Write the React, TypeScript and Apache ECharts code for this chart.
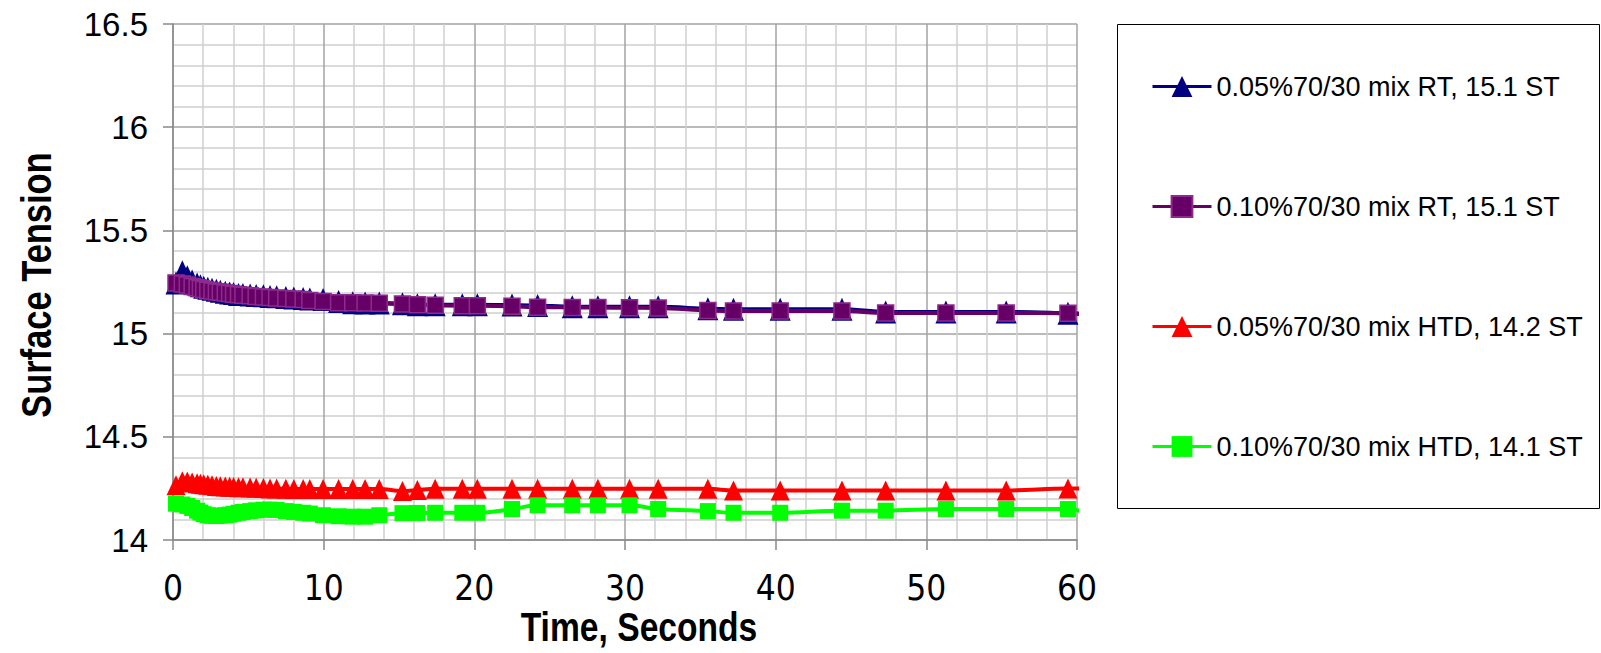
import React, { useEffect, useRef } from "react";
import * as echarts from "echarts";

// Time (s) of each measured bubble
const times = [
  0.2, 0.62, 0.95, 1.27, 1.6, 1.82, 2.04, 2.31, 2.59, 2.88, 3.14, 3.47, 3.76, 4.02, 4.35, 4.64,
  5.12, 5.52, 6.0, 6.44, 6.88, 7.49, 8.02, 8.64, 9.08, 9.96, 10.99, 11.93, 12.75, 13.69, 15.23,
  16.22, 17.4, 19.2, 20.2, 22.5, 24.2, 26.5, 28.2, 30.3, 32.2, 35.5, 37.2, 40.3, 44.4, 47.3, 51.3,
  55.3, 59.4,
];

const rt005 = [
  15.245, 15.3, 15.275, 15.255, 15.24, 15.232, 15.225, 15.22, 15.215, 15.21, 15.205, 15.2, 15.197,
  15.194, 15.19, 15.19, 15.187, 15.185, 15.183, 15.18, 15.178, 15.175, 15.172, 15.17, 15.168,
  15.165, 15.156, 15.15, 15.148, 15.148, 15.145, 15.14, 15.14, 15.14, 15.14, 15.138, 15.136, 15.13,
  15.13, 15.13, 15.13, 15.12, 15.118, 15.118, 15.118, 15.105, 15.105, 15.105, 15.098,
];

const rt010 = [
  15.245, 15.24, 15.235, 15.228, 15.222, 15.218, 15.214, 15.21, 15.206, 15.203, 15.2, 15.197,
  15.194, 15.191, 15.188, 15.186, 15.183, 15.18, 15.177, 15.175, 15.172, 15.17, 15.168, 15.165,
  15.16, 15.155, 15.15, 15.15, 15.148, 15.147, 15.143, 15.14, 15.137, 15.135, 15.135, 15.132,
  15.128, 15.127, 15.126, 15.125, 15.124, 15.112, 15.11, 15.11, 15.11, 15.1, 15.1, 15.1, 15.098,
];

const htd005 = [
  14.265, 14.285, 14.283, 14.278, 14.275, 14.273, 14.27, 14.268, 14.265, 14.262, 14.26, 14.259,
  14.258, 14.257, 14.256, 14.255, 14.254, 14.253, 14.252, 14.25, 14.249, 14.248, 14.247, 14.247,
  14.247, 14.247, 14.247, 14.247, 14.247, 14.247, 14.237, 14.242, 14.248, 14.248, 14.248, 14.248,
  14.248, 14.248, 14.248, 14.248, 14.248, 14.248, 14.24, 14.24, 14.24, 14.24, 14.24, 14.24, 14.25,
];

const htd010 = [
  14.176, 14.172, 14.165, 14.155, 14.142, 14.133, 14.125, 14.12, 14.117, 14.116, 14.118, 14.12,
  14.123, 14.127, 14.132, 14.136, 14.14, 14.144, 14.147, 14.147, 14.146, 14.14, 14.136, 14.132,
  14.128, 14.12, 14.115, 14.113, 14.113, 14.12, 14.13, 14.131, 14.132, 14.132, 14.132, 14.15,
  14.168, 14.168, 14.168, 14.168, 14.15, 14.14, 14.132, 14.132, 14.142, 14.142, 14.15, 14.15, 14.15,
];

// Last reading, just past the end of the axis (no marker drawn)
const endTime = 60.5;
const endValues = [15.095, 15.095, 14.25, 14.135];

const seriesNames = [
  "0.05%70/30 mix RT, 15.1 ST",
  "0.10%70/30 mix RT, 15.1 ST",
  "0.05%70/30 mix HTD, 14.2 ST",
  "0.10%70/30 mix HTD, 14.1 ST",
];
const seriesValues = [rt005, rt010, htd005, htd010];
const seriesColors = ["#000080", "#660066", "#ff0000", "#00ff00"];
const seriesSymbols = ["triangle", "rect", "triangle", "rect"];
const seriesSymbolSizes = [[21, 23], [16, 16], [19, 20], [16, 16]];

const xTitle = "Time, Seconds";
const yTitle = "Surface Tension";

export default function App() {
  const ref = useRef<HTMLDivElement>(null);
  useEffect(() => {
    if (!ref.current) return;
    const chart = echarts.init(ref.current, undefined, { renderer: "svg" });
    const series = seriesValues.map((vals, i) => {
      const data: any[] = times.map((t, j) => [t, vals[j]]);
      data.push({ value: [endTime, endValues[i]], symbol: "none" });
      return {
        name: seriesNames[i],
        type: "line",
        data,
        smooth: 0.35,
        clip: false,
        symbol: seriesSymbols[i],
        symbolSize: seriesSymbolSizes[i],
        lineStyle: { color: seriesColors[i], width: 4 },
        itemStyle: {
          color: seriesColors[i],
          borderColor: i === 1 ? "#8e2a8e" : seriesColors[i],
          borderWidth: i === 1 ? 1.5 : 0,
        },
        emphasis: { disabled: true },
      };
    });
    const titleFont = "'Liberation Sans', Arial, sans-serif";
    chart.setOption({
      animation: false,
      backgroundColor: "#ffffff",
      grid: { left: 173, top: 24, width: 904, height: 516, containLabel: false },
      xAxis: {
        type: "value",
        min: 0,
        max: 60,
        interval: 10,
        axisLine: { show: true, onZero: false, lineStyle: { color: "#888", width: 1.5 } },
        axisTick: { show: true, inside: false, length: 10, lineStyle: { color: "#888", width: 1.5 } },
        axisLabel: {
          fontFamily: "'DejaVu Sans Condensed', 'Liberation Sans', Arial",
          fontSize: 35,
          color: "#000",
          margin: 30,
        },
        splitLine: { show: true, lineStyle: { color: "#a3a3a3", width: 1.5 } },
        minorTick: { show: false, splitNumber: 5 },
        minorSplitLine: { show: true, lineStyle: { color: "#cfcfcf", width: 1.5 } },
      },
      yAxis: {
        type: "value",
        min: 14,
        max: 16.5,
        interval: 0.5,
        axisLine: { show: true, onZero: false, lineStyle: { color: "#888", width: 1.5 } },
        axisTick: { show: true, inside: false, length: 10, lineStyle: { color: "#888", width: 1.5 } },
        axisLabel: {
          fontFamily: "'Liberation Sans', Arial",
          fontSize: 33,
          color: "#000",
          margin: 25,
        },
        splitLine: { show: true, lineStyle: { color: "#a3a3a3", width: 1.5 } },
        minorTick: { show: false, splitNumber: 5 },
        minorSplitLine: { show: true, lineStyle: { color: "#cfcfcf", width: 1.5 } },
      },
      legend: {
        orient: "vertical",
        left: 1146,
        top: 68,
        itemWidth: 59,
        itemHeight: 26,
        itemGap: 93,
        selectedMode: false,
        lineStyle: { width: 3 },
        textStyle: { fontFamily: "'Liberation Sans', Arial", fontSize: 27, color: "#000" },
        data: seriesNames,
      },
      graphic: [
        {
          type: "rect",
          shape: { x: 1117.5, y: 24.5, width: 482, height: 484 },
          style: { fill: "none", stroke: "#000", lineWidth: 1 },
          silent: true,
        },
        {
          type: "text",
          x: 639,
          y: 627,
          scaleX: 0.82,
          silent: true,
          style: {
            text: xTitle,
            fontFamily: titleFont,
            fontWeight: "bold",
            fontSize: 41,
            fill: "#000",
            align: "center",
            verticalAlign: "middle",
          },
        },
        {
          type: "text",
          x: 36,
          y: 285,
          rotation: Math.PI / 2,
          scaleX: 0.82,
          silent: true,
          style: {
            text: yTitle,
            fontFamily: titleFont,
            fontWeight: "bold",
            fontSize: 42,
            fill: "#000",
            align: "center",
            verticalAlign: "middle",
          },
        },
      ],
      series,
    });
    return () => chart.dispose();
  }, []);
  return (
    <div
      ref={ref}
      style={{ position: "fixed", left: 0, top: 0, width: 1601, height: 653, background: "#fff" }}
    />
  );
}
